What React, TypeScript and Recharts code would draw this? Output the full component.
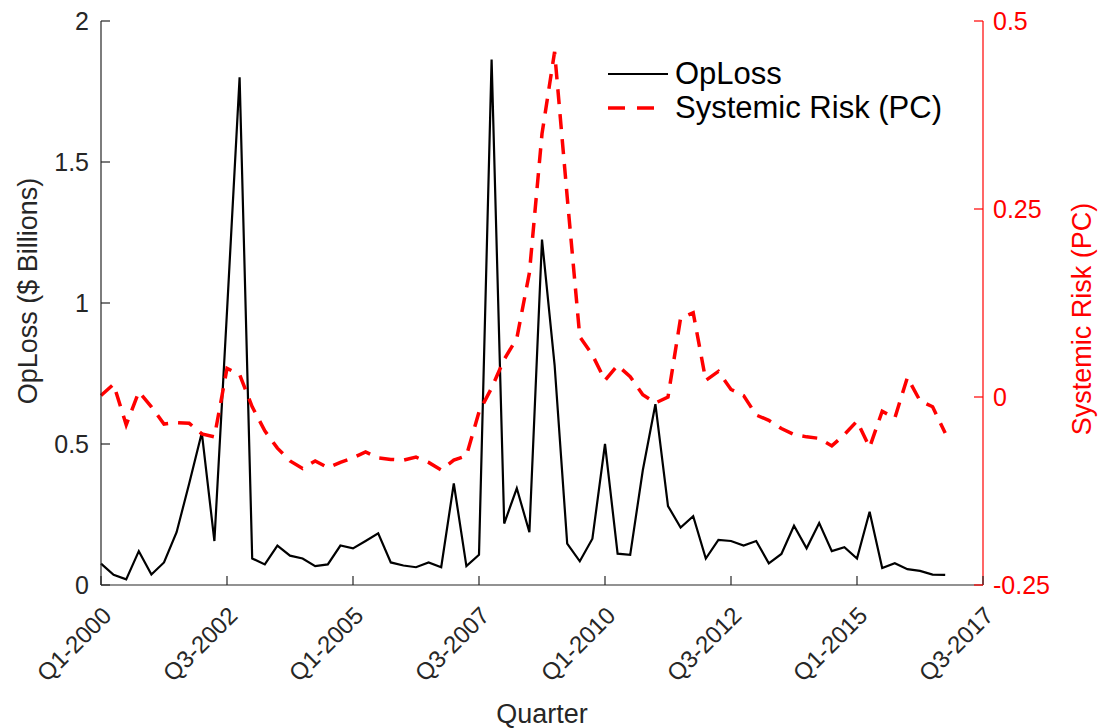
import React from "react";
import { Label, Legend, Line, LineChart, XAxis, YAxis } from "recharts";

const FONT = '"Liberation Sans", Arial, Helvetica, sans-serif';
const AXIS = "#262626";
const RED = "#ff0000";

// plot box edges (from margin + axis sizes below)
const PLOT_LEFT = 101;
const PLOT_RIGHT = 983;
const PLOT_TOP = 21;
const PLOT_BOTTOM = 585;

// quarter labels, Q1-2000 .. Q3-2017
const quarters: string[] = [];
for (let i = 0; i <= 70; i++) {
  quarters.push(`Q${(i % 4) + 1}-${2000 + Math.floor(i / 4)}`);
}

const xTicks = [0, 10, 20, 30, 40, 50, 60, 70];
const leftTicks = [0, 0.5, 1, 1.5, 2];
const rightTicks = [-0.25, 0, 0.25, 0.5];

// OpLoss, $ billions, Q1-2000 .. Q4-2016
const opLoss = [
  0.076, 0.036, 0.02, 0.12, 0.037, 0.08, 0.187, 0.36, 0.54, 0.156,
  0.97, 1.8, 0.094, 0.073, 0.14, 0.104, 0.094, 0.067, 0.073, 0.14,
  0.13, 0.156, 0.183, 0.08, 0.069, 0.063, 0.08, 0.063, 0.36, 0.067,
  0.107, 1.863, 0.218, 0.343, 0.187, 1.225, 0.78, 0.147, 0.084, 0.164,
  0.5, 0.111, 0.107, 0.407, 0.641, 0.28, 0.204, 0.244, 0.094, 0.16,
  0.156, 0.14, 0.156, 0.077, 0.11, 0.21, 0.13, 0.22, 0.12, 0.134,
  0.094, 0.26, 0.06, 0.077, 0.056, 0.05, 0.037, 0.036,
];

// Systemic risk (PC), same quarters
const systemicRisk = [
  0.002, 0.017, -0.037, 0.007, -0.013, -0.036, -0.034, -0.035, -0.049, -0.053,
  0.038, 0.03, -0.013, -0.045, -0.068, -0.085, -0.095, -0.085, -0.094, -0.087,
  -0.081, -0.073, -0.081, -0.083, -0.084, -0.08, -0.087, -0.097, -0.084, -0.078,
  -0.02, 0.012, 0.05, 0.078, 0.165, 0.35, 0.459, 0.266, 0.08, 0.056,
  0.022, 0.042, 0.027, 0.003, -0.008, 0.0, 0.105, 0.112, 0.022, 0.034,
  0.01, 0.002, -0.024, -0.031, -0.042, -0.05, -0.053, -0.055, -0.065, -0.05,
  -0.032, -0.067, -0.019, -0.028, 0.026, -0.005, -0.013, -0.048,
];

const data = opLoss.map((v, i) => ({
  q: i,
  quarter: quarters[i],
  opLoss: v,
  risk: systemicRisk[i],
}));

const QuarterTick = (props: any) => {
  const { x, payload } = props;
  const y = PLOT_BOTTOM;
  const ax = x + 12;
  const ay = y + 32;
  return (
    <g>
      <line x1={x} y1={y} x2={x} y2={y - 9} stroke={AXIS} strokeWidth={1.2} />
      <text
        x={ax}
        y={ay}
        transform={`rotate(-45 ${ax} ${ay})`}
        textAnchor="end"
        fontSize={24}
        fontFamily={FONT}
        fill={AXIS}
      >
        {quarters[payload.value]}
      </text>
    </g>
  );
};

const TopTick = (props: any) => {
  const { x } = props;
  return <line x1={x} y1={PLOT_TOP} x2={x} y2={PLOT_TOP + 9} stroke={AXIS} strokeWidth={1.2} />;
};

const LeftTick = (props: any) => {
  const { y, payload } = props;
  const x = PLOT_LEFT;
  return (
    <g>
      <line x1={x} y1={y} x2={x + 9} y2={y} stroke={AXIS} strokeWidth={1.2} />
      <text
        x={x - 12}
        y={y}
        textAnchor="end"
        dominantBaseline="central"
        fontSize={25}
        fontFamily={FONT}
        fill={AXIS}
      >
        {String(payload.value)}
      </text>
    </g>
  );
};

const RightTick = (props: any) => {
  const { y, payload } = props;
  const x = PLOT_RIGHT;
  return (
    <g>
      <line x1={x} y1={y} x2={x - 9} y2={y} stroke={RED} strokeWidth={1.2} />
      <text
        x={x + 10}
        y={y}
        textAnchor="start"
        dominantBaseline="central"
        fontSize={25}
        fontFamily={FONT}
        fill={RED}
      >
        {String(payload.value)}
      </text>
    </g>
  );
};

const LegendContent = () => {
  const row = { display: "flex", alignItems: "center", height: 34 } as const;
  return (
    <div style={{ fontFamily: FONT, fontSize: 31, color: "#000", lineHeight: "34px" }}>
      <div style={row}>
        <svg width={60} height={10}>
          <line x1={0} y1={5} x2={60} y2={5} stroke="#000" strokeWidth={2} />
        </svg>
        <span style={{ marginLeft: 7 }}>OpLoss</span>
      </div>
      <div style={row}>
        <svg width={60} height={10}>
          <line x1={0} y1={5} x2={46} y2={5} stroke={RED} strokeWidth={3.5} strokeDasharray="17 12" />
        </svg>
        <span style={{ marginLeft: 7 }}>Systemic Risk (PC)</span>
      </div>
    </div>
  );
};

export default function App() {
  return (
    <div style={{ position: "absolute", left: 0, top: 0, width: 1106, height: 728, background: "#fff" }}>
      <LineChart
        width={1106}
        height={728}
        data={data}
        margin={{ top: PLOT_TOP, right: 0, bottom: 0, left: 0 }}
      >
        <XAxis
          xAxisId="top"
          orientation="top"
          type="number"
          dataKey="q"
          domain={[0, 70]}
          ticks={xTicks}
          interval={0}
          height={0}
          tickLine={false}
          tick={<TopTick />}
          axisLine={{ stroke: AXIS, strokeWidth: 1.2 }}
        />
        <XAxis
          xAxisId="bottom"
          type="number"
          dataKey="q"
          domain={[0, 70]}
          ticks={xTicks}
          interval={0}
          height={728 - PLOT_BOTTOM}
          tickLine={false}
          tick={<QuarterTick />}
          axisLine={{ stroke: AXIS, strokeWidth: 1.2 }}
        >
          <Label
            content={(p: any) => {
              const vb = p.viewBox;
              return (
                <text
                  x={vb.x + vb.width / 2}
                  y={vb.y + 138}
                  textAnchor="middle"
                  fontSize={27}
                  fontFamily={FONT}
                  fill={AXIS}
                >
                  Quarter
                </text>
              );
            }}
          />
        </XAxis>
        <YAxis
          yAxisId="left"
          domain={[0, 2]}
          ticks={leftTicks}
          interval={0}
          width={PLOT_LEFT}
          tickLine={false}
          tick={<LeftTick />}
          axisLine={{ stroke: AXIS, strokeWidth: 1.2 }}
        >
          <Label
            content={(p: any) => {
              const vb = p.viewBox;
              const cx = vb.x + 28;
              const cy = vb.y + vb.height / 2 - 12;
              return (
                <text
                  x={cx}
                  y={cy}
                  transform={`rotate(-90 ${cx} ${cy})`}
                  textAnchor="middle"
                  dominantBaseline="central"
                  fontSize={27}
                  fontFamily={FONT}
                  fill={AXIS}
                >
                  OpLoss ($ Billions)
                </text>
              );
            }}
          />
        </YAxis>
        <YAxis
          yAxisId="right"
          orientation="right"
          domain={[-0.25, 0.5]}
          ticks={rightTicks}
          interval={0}
          width={1106 - PLOT_RIGHT}
          tickLine={false}
          tick={<RightTick />}
          axisLine={{ stroke: RED, strokeWidth: 1.2 }}
        >
          <Label
            content={(p: any) => {
              const vb = p.viewBox;
              const cx = vb.x + 99;
              const cy = vb.y + vb.height / 2 + 16;
              return (
                <text
                  x={cx}
                  y={cy}
                  transform={`rotate(-90 ${cx} ${cy})`}
                  textAnchor="middle"
                  dominantBaseline="central"
                  fontSize={27}
                  fontFamily={FONT}
                  fill={RED}
                >
                  Systemic Risk (PC)
                </text>
              );
            }}
          />
        </YAxis>
        <Line
          xAxisId="bottom"
          yAxisId="left"
          type="linear"
          dataKey="opLoss"
          name="OpLoss"
          stroke="#000"
          strokeWidth={2.2}
          dot={false}
          activeDot={false}
          isAnimationActive={false}
        />
        <Line
          xAxisId="bottom"
          yAxisId="right"
          type="linear"
          dataKey="risk"
          name="Systemic Risk (PC)"
          stroke={RED}
          strokeWidth={3.5}
          strokeDasharray="15 10"
          dot={false}
          activeDot={false}
          isAnimationActive={false}
        />
        <Legend
          layout="horizontal"
          verticalAlign="middle"
          align="center"
          content={<LegendContent />}
          wrapperStyle={{ left: 608, top: 57, width: "auto", height: "auto" }}
        />
      </LineChart>
    </div>
  );
}
